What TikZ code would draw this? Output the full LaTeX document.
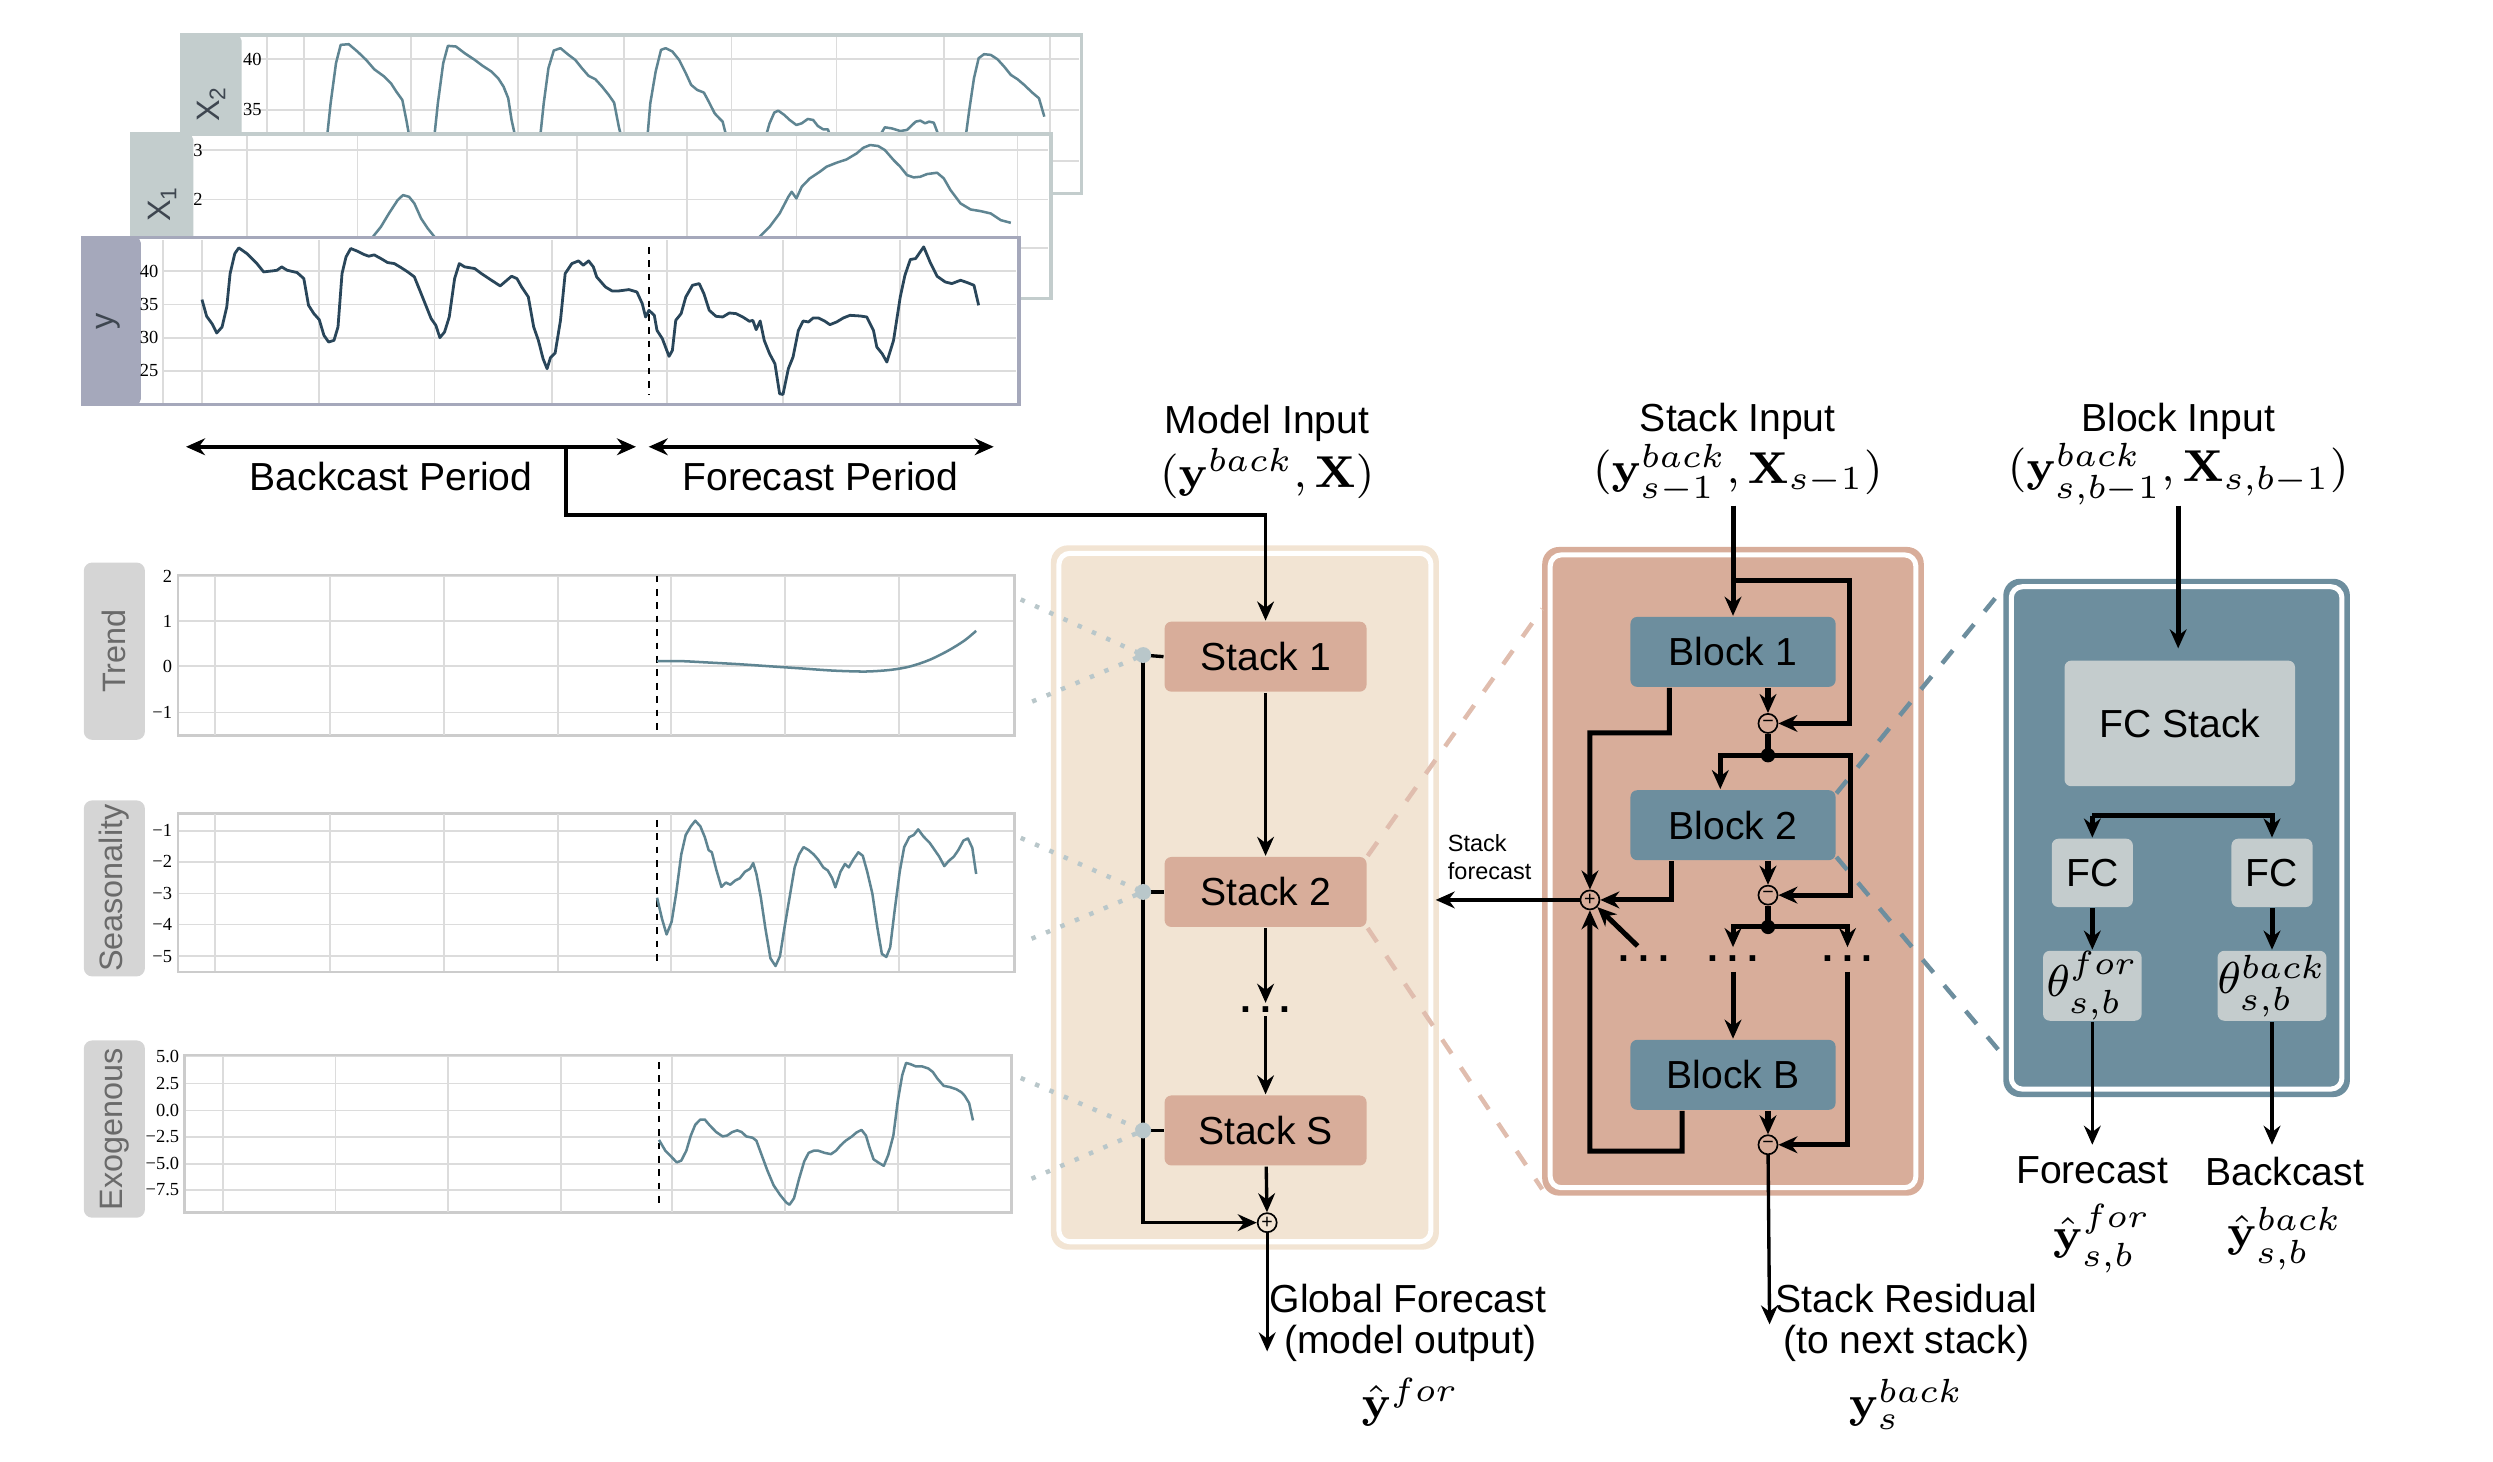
\documentclass[tikz,border=0pt]{standalone}
\usepackage[no-math]{fontspec}
\setmainfont{Liberation Sans}
\newfontfamily\tickfont{Liberation Serif}
\usetikzlibrary{arrows.meta}

\definecolor{beige}{HTML}{F2E4D3}
\definecolor{salmon}{HTML}{D8AD9A}
\definecolor{steel}{HTML}{6D8E9E}
\definecolor{fcgray}{HTML}{C4CCCD}
\definecolor{tabgray}{HTML}{D5D5D5}
\definecolor{tabtext}{HTML}{6A6A6A}
\definecolor{xtab}{HTML}{C3CDCD}
\definecolor{ytab}{HTML}{A5A8BB}
\definecolor{gridc}{HTML}{DCDCDC}
\definecolor{framec}{HTML}{CCCCCC}
\definecolor{curve}{HTML}{5F8592}
\definecolor{ycurve}{HTML}{29465A}
\definecolor{tapc}{HTML}{B9C7CA}
\definecolor{labc}{HTML}{3E4650}

\tikzset{
  >={Stealth[length=3.4pt,width=3pt]},
  wire/.style={line width=0.6pt},
  bold wire/.style={line width=0.9pt},
  stackbox/.style={rectangle, rounded corners=1.2pt, fill=salmon, minimum width=12.7mm, minimum height=4.4mm, font=\fontsize{7}{8}\selectfont},
  blockbox/.style={rectangle, rounded corners=1.2pt, fill=steel, minimum width=12.9mm, minimum height=4.4mm, font=\fontsize{7}{8}\selectfont},
  fcbox/.style={rectangle, rounded corners=1.2pt, fill=fcgray, inner sep=0pt},
  opnode/.style={circle, draw, line width=0.3pt, inner sep=0pt, minimum size=1.2mm, font=\fontsize{3.5}{3.5}\selectfont},
  lbl/.style={font=\fontsize{7}{8}\selectfont, inner sep=0pt},
  mlbl/.style={font=\fontsize{8}{9}\selectfont, inner sep=0pt},
  tick/.style={font=\tickfont\fontsize{3.3}{3.5}\selectfont, anchor=east, inner sep=0.3pt},
  gridl/.style={gridc, line width=0.3pt},
  dotsnode/.style={font=\bfseries\fontsize{7}{8}\selectfont, inner sep=0.5pt},
  tablbl/.style={rotate=90, font=\fontsize{5.8}{6}\selectfont},
  series/.style={curve, line width=0.45pt, line join=round},
  cut/.style={dash pattern=on 1.2pt off 1.2pt, line width=0.4pt},
}

\begin{document}
\begin{tikzpicture}[x=0.1mm, y=-0.1mm]
  \useasboundingbox (0,0) rectangle (1568,919);

  % input series, stacked panels
  \begin{scope}[shift={(37.25,12.45)}, xscale=0.4215, yscale=0.21]
    \filldraw[fill=white, draw=xtab, line width=0.6pt] (182,45) rectangle (1525,520);
    \fill[xtab, rounded corners=1pt] (182,45) rectangle (272,520);
    \foreach \gx in {310,365,525,685,843,1003,1160,1320,1478}
      \draw[gridl] (\gx,50) -- (\gx,516);
    \foreach \gy in {118,270,422}
      \draw[gridl] (275,\gy) -- (1521,\gy);
    \node[tick] (xtwoa) at (306,118) {40};
    \node[tick] (xtwob) at (306,270) {35};
    \node[tablbl, text=labc] (xtwolbl) at (227,250) {X\textsubscript{2}};
    \draw[series] plot coordinates {(400,345) (405,250) (413,130) (420,75) (432,73) (445,95) (458,120) (470,148) (485,170) (495,190) (503,215) (512,240) (518,300) (522,345)};
    \draw[series] plot coordinates {(560,345) (565,250) (573,130) (580,78) (592,80) (605,100) (620,120) (632,138) (645,155) (655,175) (663,200) (670,235) (675,300) (680,345)};
    \draw[series] plot coordinates {(718,345) (723,250) (730,145) (738,92) (748,85) (760,105) (770,120) (780,145) (790,168) (800,178) (810,200) (820,225) (828,248) (835,320) (838,345)};
    \draw[series] plot coordinates {(878,345) (882,250) (890,155) (898,90) (905,85) (915,95) (925,120) (935,160) (943,195) (952,210) (962,218) (970,248) (978,280) (985,295) (990,305) (995,345)};
    \draw[series] plot coordinates {(1055,345) (1060,310) (1067,278) (1073,272) (1082,285) (1090,300) (1100,315) (1108,310) (1117,297) (1125,300) (1132,318) (1140,328) (1147,328) (1150,345)};
    \draw[series] plot coordinates {(1225,345) (1232,322) (1242,325) (1255,333) (1265,330) (1278,305) (1285,302) (1292,310) (1298,305) (1305,308) (1312,345)};
    \draw[series] plot coordinates {(1353,345) (1358,270) (1365,175) (1372,115) (1380,103) (1390,105) (1400,118) (1410,140) (1420,165) (1430,178) (1440,195) (1452,218) (1462,235) (1470,290)};

    \filldraw[fill=white, draw=xtab, line width=0.6pt] (108,342) rectangle (1480,835);
    \fill[xtab, rounded corners=1pt] (108,342) rectangle (200,835);
    \foreach \gx in {280,445,608,773,937,1100,1265,1430}
      \draw[gridl] (\gx,347) -- (\gx,831);
    \foreach \gy in {390,538,683}
      \draw[gridl] (203,\gy) -- (1476,\gy);
    \node[tick] (xonea) at (218,390) {3};
    \node[tick] (xoneb) at (218,538) {2};
    \node[tablbl, text=labc] (xonelbl) at (154,550) {X\textsubscript{1}};
    \draw[series] plot coordinates {(468,650) (480,620) (492,580) (505,540) (513,525) (522,530) (530,550) (540,595) (550,625) (560,650)};
    \draw[series] plot coordinates {(1045,650) (1060,620) (1075,580) (1088,530) (1093,515) (1100,535) (1108,500) (1120,475) (1135,455) (1145,440) (1160,428) (1175,418) (1190,400) (1200,383) (1210,375) (1222,378) (1232,390) (1245,420) (1255,440) (1265,465) (1275,472) (1285,470) (1295,462) (1310,458) (1320,475) (1330,510) (1345,550) (1360,568) (1375,573) (1390,580) (1405,600) (1420,608)};

    \filldraw[fill=white, draw=ytab, line width=0.7pt] (35,652) rectangle (1432,1152);
    \fill[ytab, rounded corners=1pt] (35,652) rectangle (122,1152);
    \draw[gridl] (155,660) -- (155,1148);
    \foreach \gx in {213,388,560,735,907,1080,1255}
      \draw[gridl] (\gx,660) -- (\gx,1148);
    \foreach \gy in {753,853,952,1051}
      \draw[gridl] (155,\gy) -- (1428,\gy);
    \node[tick] (ya) at (152,753) {40};
    \node[tick] (yb) at (152,853) {35};
    \node[tick] (yc) at (152,952) {30};
    \node[tick] (yd) at (152,1051) {25};
    \node[tablbl, text=labc] (ylbl) at (73,903) {y};
    \draw[cut] (880,680) -- (880,1125);
    \draw[ycurve, line width=0.5pt, line join=round] plot coordinates {(213,838) (220,888) (228,910) (235,938) (243,920) (250,860) (255,760) (262,700) (268,683) (280,700) (295,730) (305,755) (318,752) (325,750) (332,740) (340,750) (355,757) (365,775) (372,855) (380,880) (388,898) (395,945) (402,965) (410,960) (416,920) (422,760) (428,710) (435,685) (445,693) (455,703) (462,708) (470,704) (480,715) (490,727) (500,730) (510,742) (520,755) (530,770) (545,845) (555,895) (562,915) (568,952) (575,935) (582,890) (590,775) (597,730) (605,740) (620,745) (630,760) (645,780) (658,797) (665,785) (675,768) (683,775) (690,800) (700,830) (708,920) (715,960) (722,1015) (728,1045) (733,1012) (740,998) (748,900) (755,760) (765,730) (775,722) (782,735) (790,722) (797,740) (802,770) (815,800) (825,812) (835,812) (850,808) (862,815) (870,850) (875,890) (880,870) (888,885) (892,930) (900,955) (910,1008) (915,990) (920,900) (928,880) (935,830) (945,795) (955,790) (962,820) (970,870) (980,888) (990,890) (1000,878) (1010,880) (1020,890) (1030,903) (1035,900) (1040,928) (1046,902) (1052,960) (1060,1000) (1068,1030) (1075,1120) (1080,1122) (1088,1045) (1095,1010) (1103,930) (1110,902) (1118,905) (1125,893) (1133,893) (1142,902) (1150,913) (1160,905) (1170,893) (1180,885) (1195,887) (1205,890) (1215,930) (1220,980) (1228,1000) (1235,1025) (1245,960) (1255,830) (1262,765) (1270,718) (1278,715) (1290,680) (1300,728) (1310,768) (1322,785) (1332,790) (1345,780) (1355,787) (1365,795) (1372,855)};
  \end{scope}

  % periods
  \coordinate (bpL) at (117,281);
  \coordinate (bpR) at (400,281);
  \coordinate (fpL) at (408,281);
  \coordinate (fpR) at (625,281);
  \coordinate (bpmid) at (356,281);
  \draw[<->, line width=0.8pt] (bpL) -- (bpR);
  \draw[<->, line width=0.8pt] (fpL) -- (fpR);
  \node[lbl] (bplbl) at (246,300) {Backcast Period};
  \node[lbl] (fplbl) at (516,300) {Forecast Period};

  % decomposed outputs
  \begin{scope}[shift={(43.9,347)}, xscale=0.4006, yscale=0.272]
    \fill[tabgray, rounded corners=1.5pt] (22,25) rectangle (118,435);
    \node[tablbl, text=tabtext] (trendlbl) at (70,230) {Trend};
    \filldraw[fill=white, draw=framec, line width=0.5pt] (170,55) rectangle (1483,425);
    \foreach \gx in {228,408,587,766,944,1123,1302}
      \draw[gridl] (\gx,57) -- (\gx,423);
    \foreach \gy in {57,160,265,372}
      \draw[gridl] (172,\gy) -- (1481,\gy);
    \node[tick] (tra) at (165,57) {2};
    \node[tick] (trb) at (165,160) {1};
    \node[tick] (trc) at (165,265) {0};
    \node[tick] (trd) at (165,372) {−1};
    \draw[cut] (922,55) -- (922,425);
    \draw[series] plot[smooth] coordinates {(922,253) (960,253) (1000,256) (1050,260) (1100,265) (1150,270) (1200,275) (1250,277) (1290,273) (1320,265) (1350,250) (1380,228) (1405,205) (1423,183)};

    \fill[tabgray, rounded corners=1.5pt] (22,575) rectangle (118,982);
    \node[tablbl, text=tabtext] (seaslbl) at (70,778) {Seasonality};
    \filldraw[fill=white, draw=framec, line width=0.5pt] (170,605) rectangle (1483,972);
    \foreach \gx in {228,408,587,766,944,1123,1302}
      \draw[gridl] (\gx,607) -- (\gx,970);
    \foreach \gy in {645,717,790,862,935}
      \draw[gridl] (172,\gy) -- (1481,\gy);
    \node[tick] (sea) at (165,645) {−1};
    \node[tick] (seb) at (165,717) {−2};
    \node[tick] (sec) at (165,790) {−3};
    \node[tick] (sed) at (165,862) {−4};
    \node[tick] (see) at (165,935) {−5};
    \draw[cut] (922,620) -- (922,960);
    \draw[series] plot coordinates {(922,800) (930,850) (937,885) (945,855) (952,790) (960,700) (967,655) (975,635) (982,622) (990,635) (997,660) (1003,690) (1008,695) (1015,735) (1023,775) (1030,765) (1037,770) (1045,760) (1052,755) (1060,740) (1068,733) (1073,720) (1078,745) (1085,800) (1092,870) (1100,940) (1108,958) (1115,935) (1122,870) (1130,800) (1138,730) (1145,700) (1152,683) (1160,690) (1168,700) (1175,712) (1183,730) (1190,737) (1197,755) (1202,776) (1210,740) (1217,722) (1223,730) (1230,712) (1238,695) (1245,703) (1252,740) (1260,790) (1268,870) (1275,930) (1282,937) (1288,915) (1295,830) (1303,740) (1310,683) (1318,660) (1325,655) (1332,642) (1340,658) (1350,673) (1358,690) (1365,705) (1373,727) (1380,715) (1388,705) (1395,690) (1403,668) (1410,663) (1417,685) (1423,745)};

    \fill[tabgray, rounded corners=1.5pt] (22,1130) rectangle (118,1540);
    \node[tablbl, text=tabtext] (exolbl) at (70,1335) {Exogenous};
    \filldraw[fill=white, draw=framec, line width=0.5pt] (180,1165) rectangle (1478,1528);
    \foreach \gx in {240,417,594,771,946,1123,1300}
      \draw[gridl] (\gx,1167) -- (\gx,1526);
    \foreach \gy in {1167,1230,1292,1353,1415,1476}
      \draw[gridl] (182,\gy) -- (1476,\gy);
    \node[tick] (exa) at (176,1167) {5.0};
    \node[tick] (exb) at (176,1230) {2.5};
    \node[tick] (exc) at (176,1292) {0.0};
    \node[tick] (exd) at (176,1353) {−2.5};
    \node[tick] (exe) at (176,1415) {−5.0};
    \node[tick] (exf) at (176,1476) {−7.5};
    \draw[cut] (925,1180) -- (925,1515);
    \draw[series] plot coordinates {(925,1360) (935,1385) (945,1400) (953,1412) (960,1408) (968,1385) (975,1350) (982,1325) (990,1313) (997,1313) (1005,1327) (1015,1342) (1025,1352) (1032,1350) (1040,1342) (1048,1338) (1055,1342) (1062,1352) (1072,1355) (1078,1362) (1085,1390) (1095,1430) (1105,1465) (1115,1487) (1125,1505) (1130,1510) (1137,1495) (1145,1450) (1153,1410) (1160,1390) (1168,1385) (1175,1385) (1185,1390) (1195,1393) (1203,1385) (1210,1373) (1218,1362) (1228,1352) (1235,1343) (1243,1337) (1250,1350) (1255,1375) (1262,1405) (1270,1413) (1278,1420) (1285,1395) (1293,1350) (1300,1270) (1307,1210) (1313,1182) (1320,1185) (1328,1190) (1338,1190) (1348,1195) (1355,1203) (1362,1218) (1372,1235) (1382,1238) (1392,1243) (1400,1250) (1405,1258) (1412,1275) (1418,1315)};
  \end{scope}

  % containers
  \fill[beige, rounded corners=3pt] (661,343) rectangle (905,786);
  \draw[white, line width=0.9pt, rounded corners=2pt] (666,348) rectangle (900,781);
  \fill[salmon, rounded corners=3pt] (970,344) rectangle (1210,752);
  \draw[white, line width=0.9pt, rounded corners=2pt] (975,349) rectangle (1205,747);
  \fill[steel, rounded corners=3pt] (1260,364) rectangle (1478,690);
  \draw[white, line width=0.9pt, rounded corners=2pt] (1265,369) rectangle (1473,685);

  % model level
  \coordinate (tap1) at (719,412);
  \coordinate (tap2) at (719,561);
  \coordinate (tapS) at (719,711);
  \node[stackbox] (stack1) at (796,413) {Stack 1};
  \node[stackbox] (stack2) at (796,561) {Stack 2};
  \node[dotsnode] (sdots) at (796,635) {.\hspace{1.6pt}.\hspace{1.6pt}.};
  \node[stackbox] (stackS) at (796,711) {Stack S};
  \node[opnode, fill=beige] (gsum) at (797,769) {+};

  \draw[tapc, dotted, line width=0.8pt] (642,377) -- (tap1) -- (645,443);
  \draw[tapc, dotted, line width=0.8pt] (642,527) -- (tap2) -- (645,592);
  \draw[tapc, dotted, line width=0.8pt] (642,678) -- (tapS) -- (645,743);
  \draw[salmon!80, dashed, line width=0.8pt] (stack2.north east) -- (970,383);
  \draw[salmon!80, dashed, line width=0.8pt] (stack2.south east) -- (970,748);

  \node[lbl] (modelin) at (797,266) {Model Input};
  \node[mlbl] (modelinm) at (797,298) {$(\mathbf{y}^{back},\mathbf{X})$};
  \draw[->, wire] (bpmid) -- (356,324) -| (stack1.north);
  \draw[->, wire] (stack1) -- (stack2);
  \draw[->, wire] (stack2) -- (sdots);
  \draw[->, wire] (sdots) -- (stackS);
  \draw[->, wire] (stackS) -- (gsum);
  \draw[wire] (stack1.west) -- (tap1);
  \draw[wire] (stack2.west) -- (tap2);
  \draw[wire] (stackS.west) -- (tapS);
  \draw[->, wire] (tap1) |- (gsum);
  \foreach \t in {tap1,tap2,tapS}
    \fill[tapc] (\t) circle (0.5mm);
  \coordinate (gfout) at (797,850);
  \draw[->, wire] (gsum) -- (gfout);
  \node[lbl, anchor=west] (gflbl) at (798,817) {Global Forecast};
  \node[lbl] (gfsub) at (887,845) {(model output)};
  \node[mlbl] (gfm) at (887,882) {$\hat{\mathbf{y}}^{for}$};

  % stack level
  \draw[steel, dashed, line width=0.8pt] (1155,499) -- (1260,370);
  \draw[steel, dashed, line width=0.8pt] (1155,539) -- (1260,664);
  \node[blockbox] (block1) at (1090,410) {Block 1};
  \node[blockbox] (block2) at (1090,519) {Block 2};
  \node[blockbox] (blockB) at (1090,676) {Block B};
  \node[opnode, fill=salmon] (minus1) at (1112,455) {−};
  \node[opnode, fill=salmon] (minus2) at (1112,563) {−};
  \node[opnode, fill=salmon] (minusB) at (1112,720) {−};
  \node[opnode, fill=salmon] (ssum) at (1000,566) {+};
  \coordinate (junc1) at (1112,475);
  \coordinate (junc2) at (1112,583);
  \node[dotsnode] (dotsL) at (1034,603) {.\hspace{1.6pt}.\hspace{1.6pt}.};
  \node[dotsnode] (dotsM) at (1090,603) {.\hspace{1.6pt}.\hspace{1.6pt}.};
  \node[dotsnode] (dotsR) at (1162,603) {.\hspace{1.6pt}.\hspace{1.6pt}.};

  \node[lbl] (stackin) at (1093,265) {Stack Input};
  \node[mlbl] (stackinm) at (1093,298) {$(\mathbf{y}^{back}_{s-1},\mathbf{X}_{s-1})$};
  \coordinate (sin) at (1090,318);
  \draw[->, bold wire] (sin) -- (block1.north);
  \draw[->, bold wire] (1090,365) -- (1163,365) |- (minus1);
  \draw[->, bold wire] (block1.south -| minus1) -- (minus1);
  \draw[bold wire] (minus1) -- (junc1);
  \draw[->, bold wire] (junc1) -| ([xshift=-0.8mm]block2.north);
  \draw[->, bold wire] (junc1) -- (1164,475) |- (minus2);
  \draw[->, bold wire] ([xshift=-4mm]block1.south) -- (1050,461) -| (ssum);
  \draw[->, bold wire] (block2.south -| minus2) -- (minus2);
  \draw[->, bold wire] ([xshift=-3.9mm]block2.south) |- (ssum);
  \draw[bold wire] (minus2) -- (junc2);
  \draw[->, bold wire, shorten >=0.3mm] (junc2) -| (dotsM.north);
  \draw[->, bold wire, shorten >=0.3mm] (junc2) -| (dotsR.north);
  \draw[->, bold wire] (1030,595) -- (ssum);
  \draw[->, bold wire, shorten <=0.4mm] (dotsM.south) -- (blockB.north);
  \draw[->, bold wire, shorten <=0.4mm] (dotsR.south) |- (minusB);
  \draw[->, bold wire] (blockB.south -| minusB) -- (minusB);
  \draw[->, bold wire] ([xshift=-3.2mm]blockB.south) -- (1058,724) -| (ssum);
  \fill (junc1) circle (0.45mm);
  \fill (junc2) circle (0.45mm);
  \coordinate (sfout) at (903,566);
  \draw[->, wire] (ssum) -- (sfout);
  \node[font=\fontsize{4.2}{5}\selectfont, align=left, anchor=west, inner sep=0pt] (sflbl) at (910,539) {Stack\\forecast};
  \coordinate (resout) at (1113,833);
  \draw[->, wire] (minusB) -- (resout);
  \node[lbl] (reslbl) at (1199,817) {Stack Residual};
  \node[lbl] (ressub) at (1199,845) {(to next stack)};
  \node[mlbl] (resm) at (1199,883) {$\mathbf{y}^{back}_{s}$};

  % block level
  \node[fcbox, minimum width=14.5mm, minimum height=7.9mm, font=\fontsize{7}{8}\selectfont] (fcstack) at (1371,455) {FC Stack};
  \node[fcbox, minimum width=5.1mm, minimum height=4.3mm, font=\fontsize{7}{8}\selectfont] (fcL) at (1316,549) {FC};
  \node[fcbox, minimum width=5.1mm, minimum height=4.3mm, font=\fontsize{7}{8}\selectfont] (fcR) at (1429,549) {FC};
  \node[fcbox, minimum width=6.2mm, minimum height=4.4mm, font=\fontsize{8}{9}\selectfont] (thetaF) at (1316,620) {$\theta^{for}_{s,b}$};
  \node[fcbox, minimum width=6.2mm, minimum height=4.4mm, font=\fontsize{8}{9}\selectfont] (thetaB) at (1429,620) {$\theta^{back}_{s,b}$};
  \node[lbl] (blockin) at (1370,265) {Block Input};
  \node[mlbl] (blockinm) at (1370,298) {$(\mathbf{y}^{back}_{s,b-1},\mathbf{X}_{s,b-1})$};
  \coordinate (bin) at (1370,318);
  \draw[->, bold wire, shorten >=0.7mm] (bin) -- (fcstack.north -| bin);
  \draw[->, bold wire] (1316,513) -- (fcL.north);
  \draw[->, bold wire] (1316,513) -| (fcR.north);
  \draw[->, bold wire] (fcL) -- (thetaF);
  \draw[->, bold wire] (fcR) -- (thetaB);
  \coordinate (fout) at (1316,720);
  \coordinate (bout) at (1429,720);
  \draw[->, wire] (thetaF) -- (fout);
  \draw[->, wire] (thetaB) -- (bout);
  \node[lbl] (foreclbl) at (1316,736) {Forecast};
  \node[mlbl] (forecm) at (1322,779) {$\hat{\mathbf{y}}^{for}_{s,b}$};
  \node[lbl] (backclbl) at (1437,737) {Backcast};
  \node[mlbl] (backcm) at (1437,779) {$\hat{\mathbf{y}}^{back}_{s,b}$};
\end{tikzpicture}
\end{document}
